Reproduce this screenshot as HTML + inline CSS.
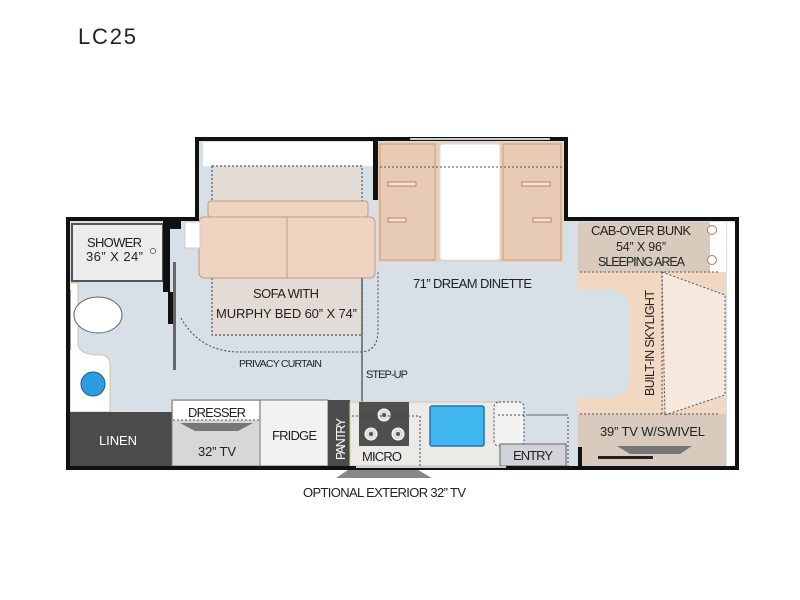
<!DOCTYPE html>
<html><head><meta charset="utf-8"><style>
html,body{margin:0;padding:0;background:#fff;}
svg{display:block;}
text{font-family:"Liberation Sans Narrow","Liberation Sans",sans-serif;fill:#222;}
</style></head><body>
<svg width="800" height="600" viewBox="0 0 800 600" xmlns="http://www.w3.org/2000/svg">
<rect width="800" height="600" fill="#fff"/>
<text x="78" y="44" style="font-family:'Liberation Sans',sans-serif" font-size="22" fill="#111" textLength="58">LC25</text>

<!-- floors -->
<rect x="197" y="140" width="370" height="80" fill="#d7dfe7"/>
<rect x="68" y="220" width="670" height="247" fill="#d7dfe7"/>

<!-- slide top white strip -->
<rect x="203" y="142" width="170" height="24" fill="#fff"/>
<rect x="212" y="166" width="150" height="42" fill="#e3dcd6"/>
<rect x="212" y="278" width="150" height="57" fill="#e3dcd6"/>
<rect x="212" y="166" width="150" height="169" fill="none" stroke="#555" stroke-width="1.2" stroke-dasharray="2,2"/>

<!-- cab area -->
<path d="M578 222 H726 V466 H578 V398 H608 Q630 398 630 375 V310 Q630 290 608 290 H578 Z" fill="#f0d8c3"/>
<rect x="578" y="222" width="138" height="50" fill="#d8cbbd"/>
<rect x="578" y="414" width="148" height="52" fill="#d8cbbd"/>
<rect x="710" y="222" width="16" height="50" fill="#fff"/>
<circle cx="712" cy="230" r="4.5" fill="#fff" stroke="#b07a5f"/>
<circle cx="712" cy="260" r="4.5" fill="#fff" stroke="#b07a5f"/>
<path d="M662 272 L725 295 L725 395 L665 415 Z" fill="#f6e8dc"/>
<path d="M662 272 L725 295 L725 395 L665 415 Z" fill="none" stroke="#555" stroke-dasharray="2,2"/>
<line x1="580" y1="272" x2="718" y2="272" stroke="#555" stroke-dasharray="2,2"/>
<line x1="580" y1="414" x2="720" y2="414" stroke="#555" stroke-dasharray="2,2"/>
<line x1="662" y1="272" x2="662" y2="414" stroke="#555" stroke-dasharray="2,2"/>
<rect x="727" y="222" width="9" height="244" fill="#fff"/>
<polygon points="617,446 692,446 680,454 630,454" fill="#777"/>
<rect x="598" y="456" width="55" height="3" fill="#222"/>

<!-- dinette -->
<rect x="378" y="142" width="185" height="120" fill="#e9cdb7"/>
<rect x="380" y="144" width="55" height="116" fill="#e8cbb4" stroke="#c69b80"/>
<rect x="503" y="144" width="58" height="116" fill="#e8cbb4" stroke="#c69b80"/>
<rect x="440" y="144" width="60" height="116" rx="3" fill="#fff" stroke="#ddd"/>
<line x1="380" y1="167" x2="562" y2="167" stroke="#555" stroke-dasharray="2,2"/>
<rect x="388" y="182" width="28" height="4" fill="#f6e3d3" stroke="#a0705a" stroke-width=".8"/>
<rect x="522" y="182" width="28" height="4" fill="#f6e3d3" stroke="#a0705a" stroke-width=".8"/>
<rect x="388" y="218" width="18" height="4" fill="#f6e3d3" stroke="#a0705a" stroke-width=".8"/>
<rect x="533" y="218" width="18" height="4" fill="#f6e3d3" stroke="#a0705a" stroke-width=".8"/>

<!-- sofa -->
<rect x="208" y="201" width="160" height="16" rx="3" fill="#eed4c0" stroke="#c49a80"/>
<rect x="199" y="217" width="176" height="61" rx="5" fill="#eed4c0" stroke="#c49a80"/>
<line x1="287" y1="217" x2="287" y2="278" stroke="#c49a80"/>
<rect x="185" y="222" width="15" height="26" fill="#fff" stroke="#ccc"/>

<!-- privacy curtain -->
<path d="M181 318 Q200 352 240 352 H360 Q378 352 378 330 V270" fill="none" stroke="#444" stroke-dasharray="2,2"/>
<text x="239" y="367" font-size="10.5" textLength="83">PRIVACY CURTAIN</text>

<!-- shower -->
<rect x="72" y="224" width="91" height="57" fill="#eaecee" stroke="#555" stroke-width="2"/>
<text x="87" y="247" font-size="13" textLength="55">SHOWER</text>
<text x="86" y="261" font-size="13" textLength="57">36” X 24”</text>
<circle cx="153" cy="251" r="2.5" fill="#fff" stroke="#666"/>
<!-- bath -->
<path d="M70 283 H78 V345 Q80 355 100 355 Q110 355 110 365 V412 H70 Z" fill="#fff" stroke="#d0c5a8"/>
<ellipse cx="98" cy="315" rx="24" ry="18" fill="#fff" stroke="#666"/>
<circle cx="93" cy="384" r="12" fill="#2e9ce0" stroke="#1a5b90"/>
<rect x="68" y="290" width="3" height="60" fill="#999"/>
<!-- bath wall -->
<rect x="163" y="220" width="18" height="9" fill="#111"/>
<rect x="163" y="220" width="7" height="72" fill="#111"/>
<rect x="168" y="292" width="5" height="32" fill="#111"/>
<rect x="173" y="262" width="3" height="108" fill="#666"/>

<!-- step-up line -->
<line x1="362" y1="278" x2="362" y2="402" stroke="#444" stroke-width="1.2"/>
<text x="366" y="378" font-size="11" textLength="42">STEP-UP</text>

<!-- bottom row -->
<rect x="70" y="412" width="103" height="54" fill="#4b4b4b"/>
<text x="99" y="445" font-size="13" style="fill:#fff" textLength="38">LINEN</text>
<rect x="172" y="400" width="88" height="66" fill="#d5d7d9" stroke="#777"/>
<rect x="173" y="401" width="86" height="19" fill="#fff"/>
<line x1="173" y1="420" x2="259" y2="420" stroke="#555" stroke-dasharray="2,2"/>
<polygon points="180,423 253,423 238,431 195,431" fill="#777"/>
<text x="188" y="417" font-size="13" textLength="58">DRESSER</text>
<text x="198" y="456" font-size="13" textLength="38">32” TV</text>
<rect x="260" y="400" width="68" height="66" fill="#f2f2f2" stroke="#777"/>
<text x="272" y="440" font-size="13" textLength="45">FRIDGE</text>
<rect x="328" y="400" width="22" height="66" fill="#4b4b4b"/>
<text transform="translate(345,460) rotate(-90)" font-size="12.5" style="fill:#fff" textLength="42">PANTRY</text>
<rect x="350" y="402" width="150" height="64" fill="#eceae6" stroke="#d0c5a8"/>
<rect x="359" y="402" width="50" height="44" fill="#4f4f4f"/>
<circle cx="384" cy="415" r="6" fill="#ddd" stroke="#fff"/><circle cx="384" cy="415" r="2" fill="#555"/>
<circle cx="371" cy="434" r="6" fill="#ddd" stroke="#fff"/><circle cx="371" cy="434" r="2" fill="#555"/>
<circle cx="398" cy="434" r="6" fill="#ddd" stroke="#fff"/><circle cx="398" cy="434" r="2" fill="#555"/>
<text x="362" y="461" font-size="13" textLength="40">MICRO</text>
<path d="M352 416 H420 V466" fill="none" stroke="#444" stroke-dasharray="2,2"/>
<rect x="430" y="406" width="54" height="40" rx="2" fill="#3fb7ee" stroke="#2a6fb0" stroke-width="1.5"/>
<rect x="494" y="402" width="30" height="44" rx="5" fill="#f2f2f2" stroke="#444" stroke-dasharray="2,2"/>
<path d="M498 415 H568 V466" fill="none" stroke="#444" stroke-dasharray="2,2"/>
<rect x="500" y="444" width="66" height="22" fill="#d0d4d8" stroke="#666"/>
<line x1="526" y1="415" x2="567" y2="415" stroke="#666"/>
<text x="513" y="460" font-size="13" textLength="40">ENTRY</text>

<!-- walls -->
<g fill="#111">
<rect x="66" y="217" width="133" height="4"/>
<rect x="66" y="217" width="4" height="253"/>
<rect x="66" y="466" width="673" height="4"/>
<rect x="735" y="217" width="4" height="253"/>
<rect x="567" y="217" width="172" height="4"/>
<rect x="195" y="137" width="4" height="84"/>
<rect x="195" y="137" width="372" height="4"/>
<rect x="564" y="137" width="4" height="84"/>
<rect x="373" y="140" width="5" height="60"/>
<rect x="578" y="447" width="4" height="22"/>
</g>
<rect x="410" y="138" width="140" height="2" fill="#ccc"/>
<rect x="356" y="466" width="150" height="2" fill="#ccc"/>

<!-- exterior TV -->
<polygon points="348,470 418,470 432,478 336,478" fill="#888"/>
<text x="303" y="497" font-size="13" textLength="163">OPTIONAL EXTERIOR 32” TV</text>

<!-- labels -->
<text x="253" y="298" font-size="13" textLength="66">SOFA WITH</text>
<text x="216" y="318" font-size="13" textLength="141">MURPHY BED 60” X 74”</text>
<text x="413" y="288" font-size="13" textLength="119">71” DREAM DINETTE</text>
<text x="591" y="235" font-size="13" textLength="100">CAB-OVER BUNK</text>
<text x="616" y="251" font-size="12.5" textLength="50">54” X 96”</text>
<text x="598" y="266" font-size="12.5" textLength="87">SLEEPING AREA</text>
<text transform="translate(654,396) rotate(-90)" font-size="12.5" textLength="106">BUILT-IN SKYLIGHT</text>
<text x="600" y="436" font-size="13" textLength="105">39” TV W/SWIVEL</text>
</svg>
</body></html>
